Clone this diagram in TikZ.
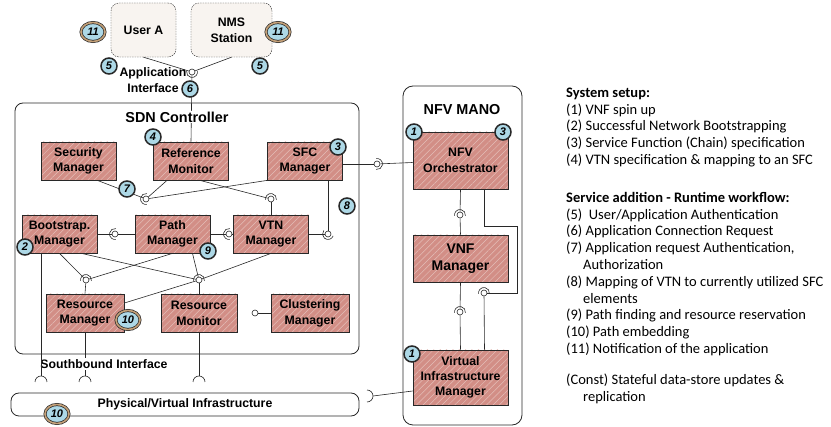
\documentclass[tikz,border=0pt]{standalone}
\usepackage{fontspec}
\setmainfont{Liberation Sans}
\newfontfamily\carlito{Carlito}
\usetikzlibrary{shapes.geometric, patterns.meta}
\definecolor{modfill}{RGB}{210,142,134}
\definecolor{hatch}{RGB}{228,190,184}
\definecolor{badgeblue}{RGB}{173,216,230}
\definecolor{ringtan}{RGB}{196,160,120}
\definecolor{edge}{RGB}{40,40,40}
\definecolor{clientfill}{RGB}{248,244,240}
\newcommand{\diagfont}{\fontsize{12.3}{15.7}\selectfont\bfseries}
\newcommand{\numfont}{\fontsize{11}{11}\selectfont\bfseries\itshape}
\newcommand{\socket}[2]{\draw [link] (#1.center) ++(#2-100:5.5pt) arc[start angle=#2-100, end angle=#2+100, radius=5.5pt];}
\tikzstyle{module} = [rectangle, draw=edge, line width=0.8pt, minimum width=75pt, minimum height=38pt, inner sep=0pt, align=center, font=\diagfont, preaction={fill=modfill}, pattern={Lines[angle=45,distance=4.5pt,line width=0.5pt]}, pattern color=hatch]
\tikzstyle{container} = [rectangle, draw=edge, line width=0.8pt, rounded corners=8pt]
\tikzstyle{client} = [rectangle, draw=edge, dash pattern=on 1.5pt off 1pt, fill=clientfill, rounded corners=8pt, minimum width=65pt, minimum height=54pt, font=\diagfont, align=center]
\tikzstyle{badge} = [circle, draw=edge, line width=1.5pt, fill=badgeblue, minimum size=16pt, inner sep=0pt, font=\numfont]
\tikzstyle{badgering} = [ellipse, draw=edge, double=ringtan, double distance=1.6pt, line width=0.7pt, fill=badgeblue, minimum width=24pt, minimum height=19pt, inner sep=0pt, font=\numfont]
\tikzstyle{ball} = [circle, draw=edge, fill=white, minimum size=6pt, inner sep=0pt, line width=0.6pt]
\tikzstyle{link} = [draw=edge, line width=0.6pt]

\begin{document}
\begin{tikzpicture}[x=1pt, y=-1pt]
  \useasboundingbox (0,0) rectangle (831,427);
  % Draw containers
  \node (sdn)[container, minimum width=344pt, minimum height=251pt] at (187,228.5) {};
  \node (mano)[container, rounded corners=10pt, minimum width=119pt, minimum height=339pt] at (462.5,255.5) {};
  \node (infra)[container, minimum width=348pt, minimum height=23pt, font=\diagfont] at (185,404.5) {Physical/Virtual Infrastructure};
  \node (usera)[client] at (143.5,30) {User A};
  \node (nms)[client, minimum width=81pt] at (231.5,30) {NMS\\Station};
  % Draw modules
  \node (sec)[module] at (78.5,161) {Security\\Manager};
  \node (refmon)[module] at (191,161) {Reference\\Monitor};
  \node (sfc)[module] at (305,161) {SFC\\Manager};
  \node (boot)[module] at (59.5,234) {Bootstrap.\\Manager};
  \node (path)[module] at (172.5,234) {Path\\Manager};
  \node (vtn)[module] at (271,234) {VTN\\Manager};
  \node (resmgr)[module, minimum width=78pt] at (85,313) {Resource\\Manager};
  \node (resmon)[module, minimum width=76pt] at (199,313) {Resource\\Monitor};
  \node (clust)[module, minimum width=78pt] at (310,313) {Clustering\\Manager};
  \node (orch)[module, minimum width=95pt, minimum height=57pt] at (460.5,160.5) {NFV\\Orchestrator};
  \node (vnfm)[module, minimum width=95pt, minimum height=47pt, font=\fontsize{14}{17}\selectfont\bfseries] at (460.5,258.5) {VNF\\Manager};
  \node (vim)[module, minimum width=95pt, minimum height=55pt, font=\fontsize{12.3}{15}\selectfont\bfseries] at (460.5,377.5) {Virtual\\Infrastructure\\Manager};
  % Draw interface balls
  \node (sapp)[ball] at (192,72) {};
  \node (s7)[ball] at (146,199) {};
  \node (svtn)[ball] at (271,199) {};
  \node (sbp)[ball] at (115,234) {};
  \node (spv)[ball] at (229,234) {};
  \node (ssv)[ball] at (328,234) {};
  \node (sl1)[ball] at (86,280) {};
  \node (sl2)[ball] at (199,280) {};
  \node (sorch)[ball] at (377,164) {};
  \node (som)[ball] at (460,215) {};
  \node (svim)[ball] at (460,312) {};
  \node (svim2)[ball] at (484,293) {};
  \node (cball)[ball] at (255,313) {};
  \coordinate (sk1) at (41,376);
  \coordinate (sk2) at (85,376);
  \coordinate (sk3) at (199,376);
  \coordinate (sk4) at (373,396);
  \coordinate (loop) at (517,226);
  % Draw links
  \draw [link] (usera.south) -- (sapp);
  \draw [link] (nms.south) -- (sapp);
  \draw [link] (sapp) -- (refmon.north);
  \draw [link] ([xshift=18.5pt]sec.south) -- (s7);
  \draw [link] ([xshift=-24pt]refmon.south) -- (s7);
  \draw [link] (sfc.south west) -- (s7);
  \draw [link] ([xshift=9pt]refmon.south) -- (svtn);
  \draw [link] (svtn) -- (vtn.north);
  \draw [link] ([xshift=23pt]sfc.south) -- (ssv);
  \draw [link] (vtn.east) -- (ssv);
  \draw [link] ([yshift=-3pt]sfc.east) -- (sorch);
  \draw [link] (sorch) -- ([yshift=-2pt]orch.west);
  \draw [link] (boot.east) -- (sbp);
  \draw [link] (sbp) -- (path.west);
  \draw [link] (path.east) -- (spv);
  \draw [link] (spv) -- (vtn.west);
  \draw [link] (boot.south) -- (sl1);
  \draw [link] ([xshift=22pt]boot.south) -- (sl2);
  \draw [link] (path.south) -- (sl1);
  \draw [link] ([xshift=20pt]path.south) -- (sl2);
  \draw [link] (vtn.south) -- (sl2);
  \draw [link] (sl2) -- ([yshift=10pt]resmgr.east);
  \draw [link] (sl1) -- (resmgr.north);
  \draw [link] (sl2) -- (resmon.north);
  \draw [link] (resmgr.south) -- (sk2);
  \draw [link] (resmon.south) -- (sk3);
  \draw [link] (clust.west) -- (cball);
  \draw [link] ([yshift=-13.5pt]vim.west) -- (sk4);
  \draw [link] (orch.south) -- (som);
  \draw [link] (som) -- (vnfm.north);
  \draw [link] (vnfm.south) -- (svim);
  \draw [link] (svim) -- (vim.north);
  \draw [link] ([xshift=24pt]orch.south) |- (loop) |- (svim2);
  \draw [link] (svim2) -- ([xshift=24pt]vim.north);
  % Draw sockets
  \socket{sapp}{270}
  \socket{s7}{180}
  \socket{svtn}{90}
  \socket{sbp}{180}
  \socket{spv}{180}
  \socket{ssv}{240}
  \socket{sl1}{90}
  \socket{sl2}{90}
  \socket{sorch}{0}
  \socket{som}{90}
  \socket{svim}{90}
  \socket{svim2}{90}
  \draw [link] (sk1) ++(6pt,-6pt) arc[start angle=0, end angle=180, radius=6pt];
  \draw [link] (sk2) ++(6pt,-6pt) arc[start angle=0, end angle=180, radius=6pt];
  \draw [link] (sk3) ++(6pt,-6pt) arc[start angle=0, end angle=180, radius=6pt];
  \draw [link] (sk4) ++(-6pt,-6pt) arc[start angle=-90, end angle=90, radius=6pt];
  % Draw titles and interface labels
  \node (sdntitle)[fill=white, inner sep=1pt, font=\fontsize{14.4}{17}\selectfont\bfseries] at (177,117) {SDN Controller};
  \node (manotitle)[font=\fontsize{14.4}{17}\selectfont\bfseries] at (462,110) {NFV MANO};
  \node (appif)[align=center, font=\diagfont] at (153,80) {Application\\Interface};
  \node (sbif)[fill=white, inner sep=1pt, font=\diagfont] at (104,364) {Southbound Interface};
  \draw [link] (boot.south -| sk1) -- (sk1);
  % Draw step badges
  \node (b11a)[badgering] at (93,32) {11};
  \node (b11b)[badgering] at (278,32) {11};
  \node (b5a)[badge] at (109,66) {5};
  \node (b5b)[badge] at (260,66) {5};
  \node (b6)[badge] at (190,89) {6};
  \node (b4)[badge] at (153,137) {4};
  \node (b3a)[badge] at (338,147) {3};
  \node (b7)[badge] at (127,189) {7};
  \node (b8)[badge] at (347,206) {8};
  \node (b2)[badge] at (25,247) {2};
  \node (b9)[badge] at (208,251) {9};
  \node (b10a)[badgering] at (128,320) {10};
  \node (b10b)[badgering] at (57,414) {10};
  \node (b1a)[badge] at (414,132) {1};
  \node (b3b)[badge] at (503,132) {3};
  \node (b1b)[badge] at (412,354) {1};
  % Draw workflow legend
  \node (legend)[anchor=north west, inner sep=0pt, align=left, font=\carlito\fontsize{14.5}{16.8}\selectfont] at (566,87.5) {%
    \textbf{System setup:}\\
    (1) VNF spin up\\
    (2) Successful Network Bootstrapping\\
    (3) Service Function (Chain) specification\\
    (4) VTN specification \& mapping to an SFC\\[21pt]
    \textbf{Service addition - Runtime workflow:}\\
    (5)~ User/Application Authentication\\
    (6) Application Connection Request\\
    (7) Application request Authentication,\\
    \hspace*{17pt}Authorization\\
    (8) Mapping of VTN to currently utilized SFC\\
    \hspace*{17pt}elements\\
    (9) Path finding and resource reservation\\
    (10) Path embedding\\
    (11) Notification of the application\\[14pt]
    (Const) Stateful data-store updates \&\\
    \hspace*{17pt}replication};
\end{tikzpicture}
\end{document}
